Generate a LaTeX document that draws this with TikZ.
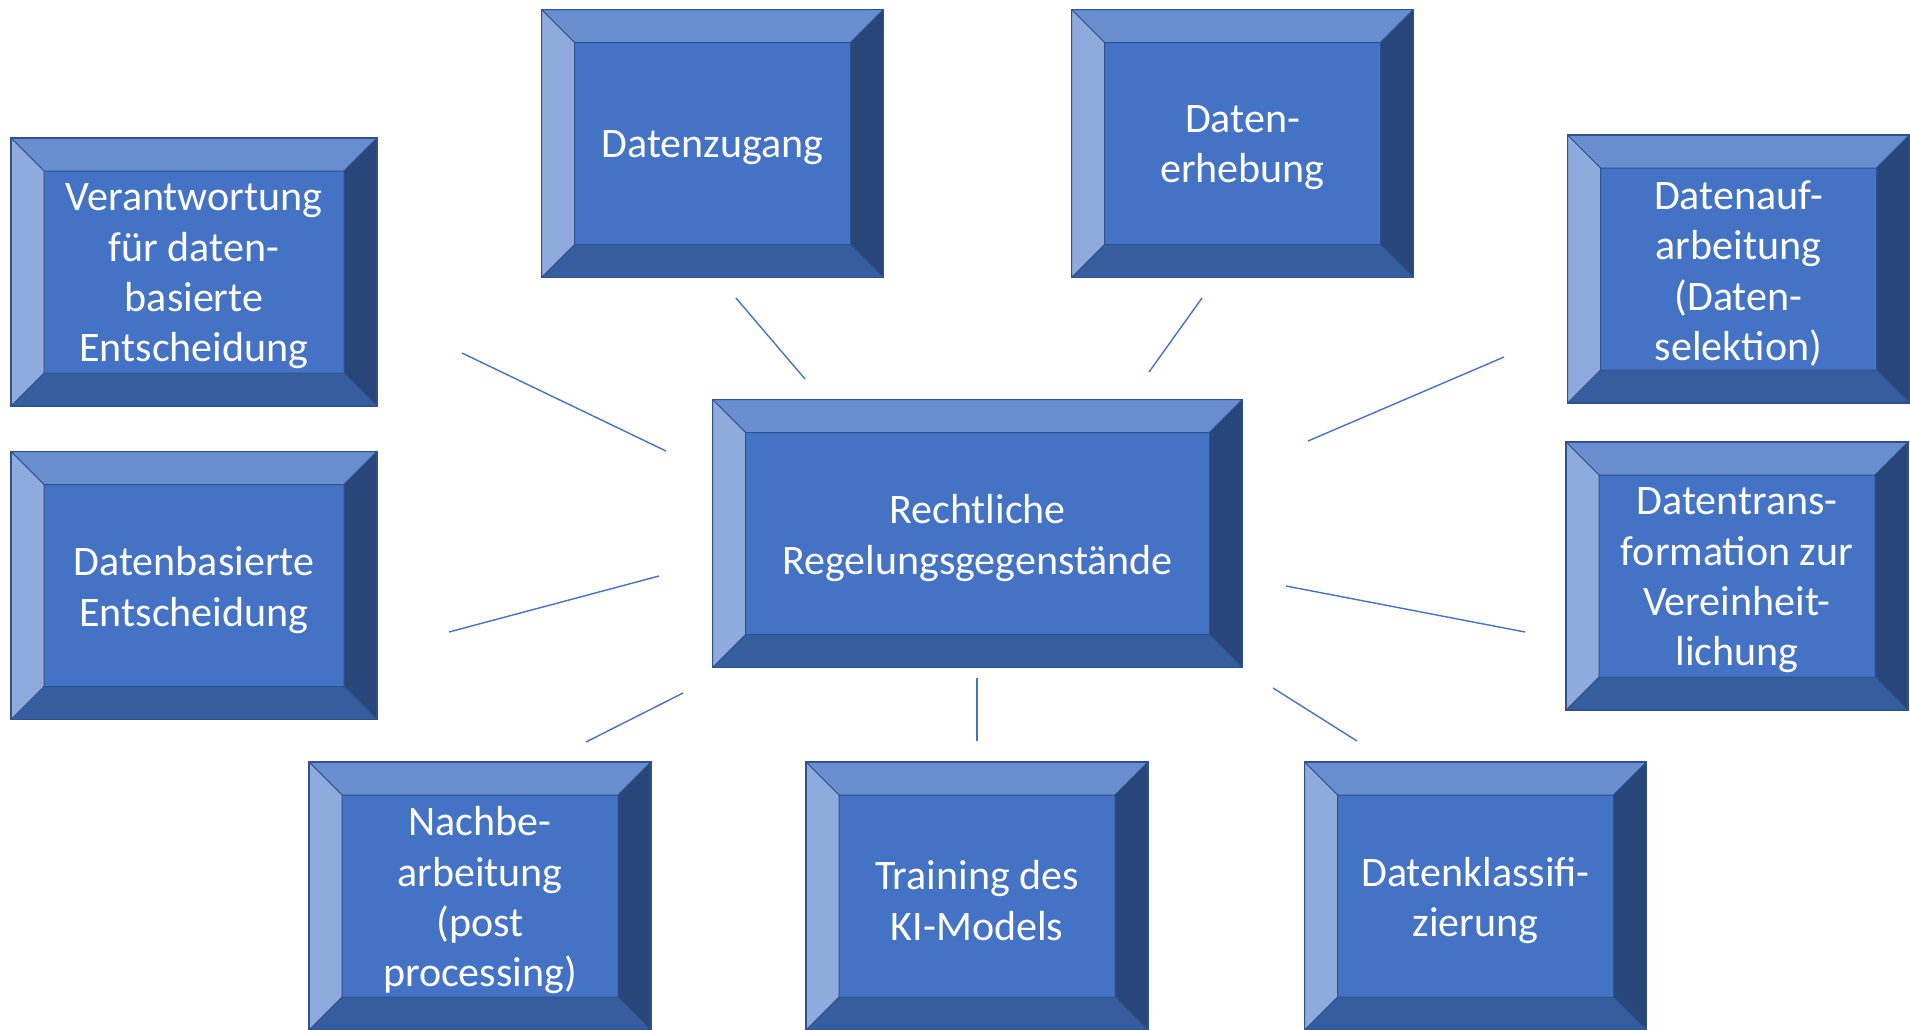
\documentclass[tikz,border=0pt]{standalone}
\usepackage{fontspec}
\setmainfont{Carlito}
\usepackage{tikz}
\usetikzlibrary{positioning}
\definecolor{boxface}{HTML}{4472C4}
\definecolor{boxtop}{HTML}{698ED0}
\definecolor{boxleft}{HTML}{8FAADC}
\definecolor{boxright}{HTML}{29467A}
\definecolor{boxbottom}{HTML}{365E9E}
\definecolor{boxline}{HTML}{2F528F}
\newbox\boxtxt

\begin{document}
\begin{tikzpicture}[
    x=0.5pt, y=-0.5pt,
    bev/.style={fill=#1, draw=boxline, line width=0.5pt},
    mybox/.style={draw=boxline, line width=0.7pt, fill=boxface, rectangle,
      inner sep=0pt, outer sep=0pt, minimum width=171pt, minimum height=134pt,
      align=center, text=white, font=\fontsize{21pt}{25.2pt}\selectfont,
      execute at begin node={\setbox\boxtxt=\hbox\bgroup},
      execute at end node={\egroup\vbox{\kern4.4pt\box\boxtxt}},
      path picture={
        \path[bev=boxtop] (path picture bounding box.north west) -- (path picture bounding box.north east)
          -- ++(-16.5pt,-16.5pt) -- ([shift={(16.5pt,-16.5pt)}]path picture bounding box.north west) -- cycle;
        \path[bev=boxright] (path picture bounding box.north east) -- (path picture bounding box.south east)
          -- ++(-16.5pt,16.5pt) -- ([shift={(-16.5pt,-16.5pt)}]path picture bounding box.north east) -- cycle;
        \path[bev=boxbottom] (path picture bounding box.south east) -- (path picture bounding box.south west)
          -- ++(16.5pt,16.5pt) -- ([shift={(-16.5pt,16.5pt)}]path picture bounding box.south east) -- cycle;
        \path[bev=boxleft] (path picture bounding box.south west) -- (path picture bounding box.north west)
          -- ++(16.5pt,-16.5pt) -- ([shift={(16.5pt,16.5pt)}]path picture bounding box.south west) -- cycle;
      }},
    widebox/.style={mybox, minimum width=183pt},
    mainbox/.style={mybox, minimum width=265pt, minimum height=134pt},
    link/.style={draw=boxface, line width=0.7pt}
    ]

    \useasboundingbox (0,0) rectangle (1910,1029);

    \node[mainbox] (0) at (977.5,533.5) {Rechtliche\\Regelungsgegenstände};
    \node[widebox] (1) at (194,272) {Verantwortung\\für daten-\\basierte\\Entscheidung};
    \node[widebox] (2) at (194,585.5) {Datenbasierte\\Entscheidung};
    \node[mybox] (3) at (712.5,143.5) {Datenzugang};
    \node[mybox] (4) at (1242.5,143.5) {Daten-\\erhebung};
    \node[mybox] (5) at (1738.5,269) {Datenauf-\\arbeitung\\(Daten-\\selektion)};
    \node[mybox] (6) at (1737,576) {Datentrans-\\formation zur\\Vereinheit-\\lichung};
    \node[mybox] (7) at (1475.5,896) {Datenklassifi-\\zierung};
    \node[mybox] (8) at (977,896) {Training des\\KI-Models};
    \node[mybox] (9) at (480,896) {Nachbe-\\arbeitung\\(post\\processing)};

    \coordinate (a1) at (666,451);  \coordinate (b1) at (462,353);
    \coordinate (a2) at (659,576);  \coordinate (b2) at (449,632);
    \coordinate (a3) at (805,379);  \coordinate (b3) at (736,298);
    \coordinate (a4) at (1149,372); \coordinate (b4) at (1202,298);
    \coordinate (a5) at (1308,441); \coordinate (b5) at (1504,357);
    \coordinate (a6) at (1286,586); \coordinate (b6) at (1525,632);
    \coordinate (a7) at (1273,688); \coordinate (b7) at (1357,741);
    \coordinate (a8) at (977,678);  \coordinate (b8) at (977,741);
    \coordinate (a9) at (683,693);  \coordinate (b9) at (586,742);

    \path (a1) edge[link] (b1)
    (a2) edge[link] (b2)
    (a3) edge[link] (b3)
    (a4) edge[link] (b4)
    (a5) edge[link] (b5)
    (a6) edge[link] (b6)
    (a7) edge[link] (b7)
    (a8) edge[link] (b8)
    (a9) edge[link] (b9)
    ;

  \end{tikzpicture}
\end{document}
